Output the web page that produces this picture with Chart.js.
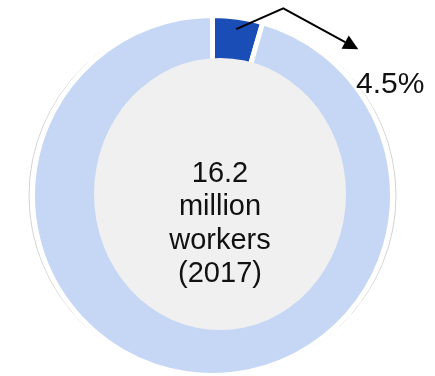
<!DOCTYPE html>
<html>
<head>
<meta charset="utf-8">
<script src="https://cdn.jsdelivr.net/npm/chart.js@4/dist/chart.umd.min.js"></script>
<style>
  html, body { margin: 0; padding: 0; background: #ffffff; }
  canvas { display: block; }
</style>
</head>
<body>
<canvas id="chart" width="435" height="376"></canvas>
<script>
// Workforce share shown in the ring (percent)
const categories = ['Highlighted group', 'Other workers'];
const shares = [4.5, 95.5];
const sliceColors = ['#1b4db6', '#c6d7f6'];
const centerLines = ['16.2', 'million', 'workers', '(2017)'];
const highlightLabel = shares[0] + '%';

const FONT = '"Liberation Sans", Arial, Helvetica, sans-serif';

// Outline ring behind the doughnut, grey centre disc with caption,
// and the arrow pointing from the highlighted slice to its label.
const decorations = {
  id: 'decorations',
  beforeDatasetsDraw(chart) {
    const arc = chart.getDatasetMeta(0).data[0];
    const ctx = chart.ctx;
    ctx.save();
    ctx.strokeStyle = '#d2d2d2';
    ctx.lineWidth = 1;
    ctx.beginPath();
    ctx.ellipse(arc.x, arc.y, arc.outerRadius + 3.5, arc.outerRadius + 1, 0, 0, Math.PI * 2);
    ctx.stroke();
    ctx.restore();
  },
  afterDatasetsDraw(chart) {
    const arc = chart.getDatasetMeta(0).data[0];
    const ctx = chart.ctx;
    const cx = arc.x + 7.5;
    const cy = arc.y - 1.5;

    ctx.save();
    // centre disc
    ctx.fillStyle = '#f0f0f0';
    ctx.beginPath();
    ctx.ellipse(cx, cy, 126, 136, 0, 0, Math.PI * 2);
    ctx.fill();

    // caption
    ctx.fillStyle = '#111111';
    ctx.font = '29px ' + FONT;
    ctx.textAlign = 'center';
    ctx.textBaseline = 'alphabetic';
    centerLines.forEach((line, i) => {
      ctx.fillText(line, cx, cy - 12 + i * 33.4);
    });

    // arrow from the middle of the highlighted slice
    const mid = (arc.startAngle + arc.endAngle) / 2;
    const r = arc.outerRadius - 12;
    const sx = arc.x + Math.cos(mid) * r;
    const sy = arc.y + Math.sin(mid) * r;
    const px = arc.x + 70.8, py = arc.y - 187.2;
    const tx = arc.x + 145.8, ty = arc.y - 146.2;
    const ang = Math.atan2(ty - py, tx - px);
    const headLen = 15, headHalf = 7.5;
    const bx = tx - Math.cos(ang) * headLen;
    const by = ty - Math.sin(ang) * headLen;

    ctx.strokeStyle = '#000000';
    ctx.lineWidth = 2;
    ctx.lineJoin = 'miter';
    ctx.beginPath();
    ctx.moveTo(sx, sy);
    ctx.lineTo(px, py);
    ctx.lineTo(bx, by);
    ctx.stroke();

    ctx.fillStyle = '#000000';
    ctx.beginPath();
    ctx.moveTo(tx, ty);
    ctx.lineTo(bx + Math.sin(ang) * headHalf, by - Math.cos(ang) * headHalf);
    ctx.lineTo(bx - Math.sin(ang) * headHalf, by + Math.cos(ang) * headHalf);
    ctx.closePath();
    ctx.fill();

    // value label
    ctx.fillStyle = '#111111';
    ctx.font = '30px ' + FONT;
    ctx.textAlign = 'left';
    ctx.fillText(highlightLabel, arc.x + 143.5, arc.y - 102.5);
    ctx.restore();
  }
};

new Chart(document.getElementById('chart'), {
  type: 'doughnut',
  data: {
    labels: categories,
    datasets: [{
      data: shares,
      backgroundColor: sliceColors,
      borderColor: '#ffffff',
      borderWidth: 5,
      hoverOffset: 0
    }]
  },
  options: {
    responsive: false,
    animation: false,
    radius: 180,
    cutout: 110,
    rotation: 0,
    layout: { padding: { left: 0, right: 10, top: 15, bottom: 0 } },
    plugins: {
      legend: { display: false },
      tooltip: { enabled: false }
    },
    events: []
  },
  plugins: [decorations]
});
</script>
</body>
</html>
